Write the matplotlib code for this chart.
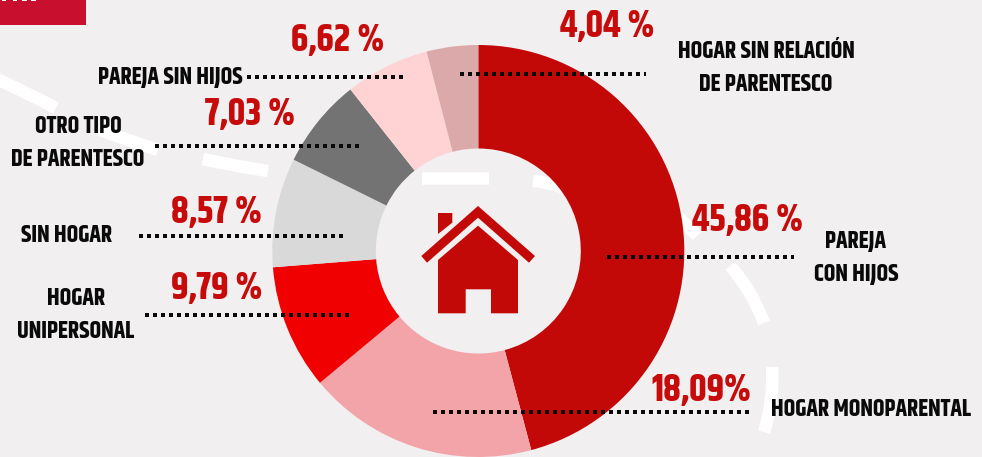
import matplotlib
matplotlib.use('Agg')
import matplotlib.pyplot as plt
from matplotlib.path import Path
from matplotlib.patches import PathPatch, Polygon, Rectangle

W, H = 982, 457

categories = ['PAREJA\nCON HIJOS', 'HOGAR MONOPARENTAL', 'HOGAR\nUNIPERSONAL', 'SIN HOGAR',
              'OTRO TIPO\nDE PARENTESCO', 'PAREJA SIN HIJOS', 'HOGAR SIN RELACIÓN\nDE PARENTESCO']
values = [45.86, 18.09, 9.79, 8.57, 7.03, 6.62, 4.04]
value_labels = ['45,86 %', '18,09%', '9,79 %', '8,57 %', '7,03 %', '6,62 %', '4,04 %']
colors = ['#C30808', '#F2A4A8', '#F00000', '#D9D9D9', '#737373', '#FFD3D3', '#DBA9A9']

value_pos = [(748, 219), (701, 390), (217, 288), (217, 211), (250, 113), (338, 39), (607, 26)]
label_pos = [(856, 257), (871, 409), (76, 314), (67, 234), (78, 142), (170, 76), (766, 67)]
leader_y = [256.7, 412.3, 315, 235.5, 145.7, 77.3, 73.7]
leader_x = [(607, 794), (433, 751), (145, 349), (139, 344), (155, 361), (247, 404), (460, 646)]

bg = '#F1EFF0'
red = '#C30808'
font = ['Khand', 'Liberation Sans', 'DejaVu Sans']

fig = plt.figure(figsize=(W / 100, H / 100), dpi=100, facecolor=bg)
ax = fig.add_axes([0, 0, 1, 1])
ax.set_xlim(0, W)
ax.set_ylim(0, H)
ax.axis('off')


def fy(y):
    return H - y


# white dashes behind the ring
swooshes = [
    [(-5, 78), (25, 92), (56, 108)],
    [(100, 130), (130, 141), (158, 150)],
    [(203, 159), (235, 166), (268, 171)],
    [(422, 178.5), (455, 178.5), (489, 178.5)],
    [(533, 181), (547, 182), (562, 187)],
    [(672, 212), (685, 222), (697, 236)],
    [(730, 266), (752, 290), (764, 323)],
    [(772, 367), (774, 400), (764, 432)],
]
for s in swooshes:
    verts = [(x, fy(y)) for x, y in s]
    p = Path(verts, [Path.MOVETO, Path.CURVE3, Path.CURVE3])
    ax.add_patch(PathPatch(p, fc='none', ec='white', lw=9, capstyle='butt', zorder=1))

wedges, _ = ax.pie(values, colors=colors, startangle=90, counterclock=False,
                   center=(478.3, fy(251)), radius=206, frame=False,
                   wedgeprops=dict(width=103.5, lw=0))
for w in wedges:
    w.set_zorder(2)
ax.set_xlim(0, W)
ax.set_ylim(0, H)
ax.set_aspect('auto')

# red tab top left, tops of cut off letters on it
ax.add_patch(Rectangle((0, fy(25)), 86, 25, fc='#C8102E', ec='none', zorder=3))
for x0, x1 in [(2, 6), (13, 17), (22, 27), (31, 36)]:
    ax.add_patch(Rectangle((x0, fy(1.3)), x1 - x0, 1.3, fc='white', ec='none', zorder=4))

# house icon
roof = [(478, 206), (535, 256), (529, 262.7), (478, 217.7), (427, 262.7), (421.3, 256)]
chimney = [(438, 213), (452.3, 213), (452.3, 222.7), (438, 234)]
body = [(478, 225.7), (518, 260), (518, 313.3), (491, 313.3), (491, 289.3),
        (465.7, 289.3), (465.7, 313.3), (438, 313.3), (438, 260)]
for shape in (roof, chimney, body):
    ax.add_patch(Polygon([(x, fy(y)) for x, y in shape], fc=red, ec='none', zorder=4))

for (x0, x1), y in zip(leader_x, leader_y):
    ax.plot([x0, x1], [fy(y), fy(y)], color='#0A0A0A', lw=2.88, ls=(0, (1, 1)),
            dash_capstyle='butt', zorder=5)

for txt, (x, y) in zip(value_labels, value_pos):
    ax.text(x, fy(y), txt, color='#C70A0A', fontsize=27, fontweight='bold', family=font,
            ha='center', va='center', zorder=6)

for txt, (x, y) in zip(categories, label_pos):
    ax.text(x, fy(y), txt, color='#0A0A0A', fontsize=17, fontweight='bold', family=font,
            ha='center', va='center', linespacing=1.5, zorder=6)

fig.savefig('out.png', dpi=100, facecolor=bg)
